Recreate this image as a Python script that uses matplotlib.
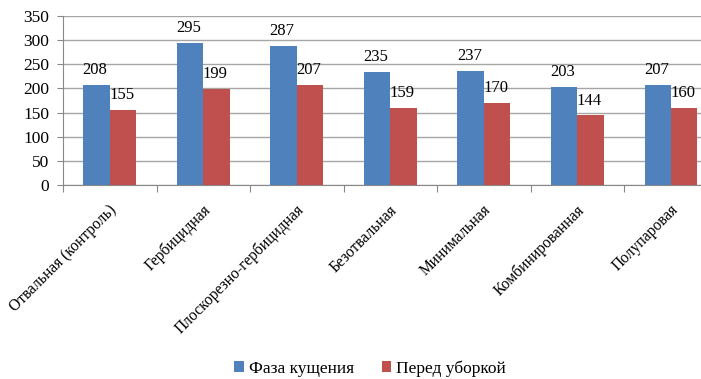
import numpy as np
import matplotlib
matplotlib.use('Agg')
from matplotlib import pyplot as plt

categories = ["Отвальная (контроль)", "Гербицидная", "Плоскорезно-гербицидная",
              "Безотвальная", "Минимальная", "Комбинированная", "Полупаровая"]
tillering = [208, 295, 287, 235, 237, 203, 207]
before_harvest = [155, 199, 207, 159, 170, 144, 160]
series_names = ["Фаза кущения", "Перед уборкой"]

plt.rcParams['font.family'] = ['Liberation Serif', 'DejaVu Serif']

fig = plt.figure(figsize=(7.01, 3.79), dpi=100)
# plot area runs a bit past the right edge of the figure
ax = fig.add_axes([0.0899, 0.5119, 0.934, 0.4459])

x = np.arange(len(categories))
w = 0.283
b1 = ax.bar(x - w / 2, tillering, w, color="#4F81BD", label=series_names[0], zorder=3)
b2 = ax.bar(x + w / 2, before_harvest, w, color="#C0504D", label=series_names[1], zorder=3)

for bars, vals in ((b1, tillering), (b2, before_harvest)):
    for r, v in zip(bars, vals):
        ax.annotate(str(v), (r.get_x() + r.get_width() / 2, v), xytext=(-1, 5),
                    textcoords="offset points", ha="center", va="bottom", fontsize=12)

ax.set_xlim(-0.5, len(categories) - 0.5)
ax.set_ylim(0, 350)
ax.set_yticks(range(0, 351, 50))
ax.yaxis.grid(True, color="#a6a6a6", linewidth=1.0, zorder=0)
ax.tick_params(axis="y", length=4, color="#888888", labelsize=12.5, pad=6)

ax.set_xticks(np.arange(len(categories) + 1) - 0.5)
ax.set_xticklabels([])
ax.tick_params(axis="x", length=5, color="#888888")
for i, name in enumerate(categories):
    ax.text(i + 0.05, -47, name, rotation=45, rotation_mode="anchor",
            ha="right", va="center", fontsize=11.2, transform=ax.transData)

for side in ("top", "right"):
    ax.spines[side].set_visible(False)
ax.spines["left"].set_color("#888888")
ax.spines["bottom"].set_color("#888888")

fig.legend(handles=[b1, b2], labels=series_names, loc="center",
           bbox_to_anchor=(0.528, 0.028), ncol=2, frameon=False, fontsize=12.5,
           handlelength=0.55, handleheight=0.55, handletextpad=0.3, columnspacing=1.6)

fig.savefig("out.png", dpi=100)
